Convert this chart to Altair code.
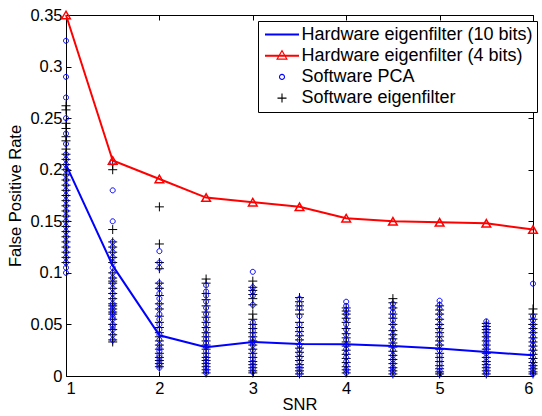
import altair as alt
import pandas as pd

# ---------------- data ----------------
S_HW10 = "Hardware eigenfilter (10 bits)"
S_HW4 = "Hardware eigenfilter (4 bits)"
S_PCA = "Software PCA"
S_SWE = "Software eigenfilter"
series_names = [S_HW10, S_HW4, S_PCA, S_SWE]

snr_line = [1, 1.5, 2, 2.5, 3, 3.5, 4, 4.5, 5, 5.5, 6]
hw10 = [0.205, 0.107, 0.0395, 0.028, 0.033, 0.031, 0.0307, 0.029, 0.0266, 0.0233, 0.020]
hw4 = [0.35, 0.209, 0.191, 0.173, 0.1685, 0.164, 0.153, 0.150, 0.149, 0.148, 0.142]

# Software PCA (blue circles), per SNR
pca_1_0 = [0.325, 0.29, 0.27, 0.25, 0.235, 0.225, 0.215, 0.21, 0.205, 0.2, 0.195, 0.19, 0.185, 0.18,
           0.175, 0.17, 0.165, 0.16, 0.155, 0.15, 0.145, 0.14, 0.135, 0.13, 0.125, 0.12, 0.115, 0.11,
           0.105, 0.1]
pca_1_5 = [0.207, 0.18, 0.15, 0.13, 0.125, 0.12, 0.115, 0.11, 0.105, 0.1, 0.095, 0.09, 0.085, 0.08,
           0.075, 0.07, 0.068, 0.065, 0.062, 0.06, 0.057, 0.055, 0.05, 0.048, 0.045, 0.04, 0.035]
pca_2_0 = [0.121, 0.11, 0.105, 0.09, 0.085, 0.08, 0.075, 0.07, 0.065, 0.06, 0.055, 0.05, 0.045, 0.04,
           0.035, 0.03, 0.027, 0.024, 0.02, 0.018, 0.015, 0.012, 0.01, 0.008]
pca_2_5 = [0.088, 0.082, 0.078, 0.072, 0.066, 0.06, 0.055, 0.05, 0.045, 0.04, 0.036, 0.032, 0.028,
           0.024, 0.02, 0.017, 0.014, 0.011, 0.008, 0.005, 0.003]
pca_3_0 = [0.101, 0.086, 0.082, 0.078, 0.069, 0.052, 0.048, 0.044, 0.04, 0.036, 0.033, 0.03, 0.025,
           0.02, 0.016, 0.013, 0.01, 0.007, 0.004]
pca_3_5 = [0.075, 0.07, 0.066, 0.058, 0.05, 0.045, 0.04, 0.035, 0.03, 0.026, 0.022, 0.018, 0.014,
           0.01, 0.007, 0.004, 0.002]
pca_4_0 = [0.072, 0.068, 0.064, 0.06, 0.055, 0.05, 0.045, 0.04, 0.035, 0.03, 0.026, 0.022, 0.018,
           0.014, 0.01, 0.006, 0.003]
pca_4_5 = [0.07, 0.066, 0.062, 0.058, 0.054, 0.05, 0.045, 0.04, 0.035, 0.03, 0.025, 0.02, 0.016,
           0.012, 0.008, 0.005, 0.002]
pca_5_0 = [0.073, 0.069, 0.065, 0.06, 0.055, 0.05, 0.045, 0.04, 0.035, 0.03, 0.025, 0.02, 0.016,
           0.012, 0.008, 0.005, 0.002]
pca_5_5 = [0.053, 0.05, 0.047, 0.044, 0.041, 0.038, 0.035, 0.032, 0.029, 0.026, 0.022, 0.018, 0.014,
           0.01, 0.007, 0.004, 0.002]
pca_6_0 = [0.0895, 0.058, 0.054, 0.05, 0.046, 0.042, 0.038, 0.034, 0.03, 0.026, 0.022, 0.018, 0.014,
           0.01, 0.007, 0.004, 0.002]

# Software eigenfilter (black plus), per SNR
swe_1_0 = [0.262, 0.258, 0.245, 0.24, 0.232, 0.228, 0.22, 0.215, 0.21, 0.205, 0.2, 0.195, 0.19, 0.185,
           0.18, 0.175, 0.17, 0.165, 0.16, 0.155, 0.15, 0.145, 0.14, 0.135, 0.13, 0.125, 0.12, 0.115,
           0.11]
swe_1_5 = [0.205, 0.2, 0.142, 0.13, 0.125, 0.12, 0.115, 0.11, 0.1, 0.095, 0.092, 0.09, 0.085, 0.08,
           0.075, 0.07, 0.068, 0.065, 0.062, 0.06, 0.055, 0.05, 0.045, 0.04, 0.035, 0.033]
swe_2_0 = [0.164, 0.128, 0.11, 0.104, 0.09, 0.085, 0.078, 0.07, 0.065, 0.058, 0.052, 0.047, 0.042,
           0.038, 0.034, 0.03, 0.026, 0.022, 0.018, 0.015, 0.012, 0.009]
swe_2_5 = [0.094, 0.09, 0.08, 0.074, 0.068, 0.062, 0.057, 0.052, 0.047, 0.042, 0.038, 0.034, 0.03,
           0.026, 0.022, 0.018, 0.015, 0.012, 0.009, 0.006, 0.003]
swe_3_0 = [0.092, 0.086, 0.083, 0.079, 0.075, 0.069, 0.06, 0.055, 0.05, 0.046, 0.042, 0.038, 0.034,
           0.03, 0.026, 0.022, 0.018, 0.014, 0.011, 0.008, 0.005, 0.003]
swe_3_5 = [0.076, 0.072, 0.068, 0.064, 0.06, 0.052, 0.047, 0.043, 0.039, 0.035, 0.031, 0.027, 0.023,
           0.019, 0.015, 0.011, 0.008, 0.005, 0.002]
swe_4_0 = [0.066, 0.063, 0.06, 0.056, 0.052, 0.046, 0.041, 0.037, 0.033, 0.029, 0.025, 0.021, 0.017,
           0.013, 0.009, 0.006, 0.003]
swe_4_5 = [0.075, 0.071, 0.066, 0.06, 0.056, 0.05, 0.044, 0.04, 0.036, 0.032, 0.028, 0.024, 0.02,
           0.016, 0.012, 0.008, 0.005, 0.002]
swe_5_0 = [0.068, 0.064, 0.06, 0.055, 0.05, 0.046, 0.042, 0.038, 0.034, 0.03, 0.026, 0.022, 0.018,
           0.014, 0.01, 0.007, 0.004, 0.002]
swe_5_5 = [0.051, 0.048, 0.045, 0.042, 0.038, 0.034, 0.03, 0.026, 0.022, 0.018, 0.014, 0.011, 0.008,
           0.005, 0.002]
swe_6_0 = [0.065, 0.06, 0.055, 0.05, 0.046, 0.042, 0.037, 0.033, 0.029, 0.025, 0.021, 0.017, 0.013,
           0.01, 0.007, 0.004, 0.002]

x_ticks = [1, 2, 3, 4, 5, 6]
y_ticks = [0, 0.05, 0.1, 0.15, 0.2, 0.25, 0.3, 0.35]

pca_cols = [pca_1_0, pca_1_5, pca_2_0, pca_2_5, pca_3_0, pca_3_5, pca_4_0, pca_4_5, pca_5_0, pca_5_5, pca_6_0]
swe_cols = [swe_1_0, swe_1_5, swe_2_0, swe_2_5, swe_3_0, swe_3_5, swe_4_0, swe_4_5, swe_5_0, swe_5_5, swe_6_0]

# ---------------- tables ----------------
rows = []
for s, col in zip(snr_line, swe_cols):
    rows += [{"snr": s, "fpr": v, "series": S_SWE} for v in col]
for s, col in zip(snr_line, pca_cols):
    rows += [{"snr": s, "fpr": v, "series": S_PCA} for v in col]
scatter_df = pd.DataFrame(rows)

line_df = pd.DataFrame(
    [{"snr": s, "fpr": v, "series": S_HW10} for s, v in zip(snr_line, hw10)]
    + [{"snr": s, "fpr": v, "series": S_HW4} for s, v in zip(snr_line, hw4)]
)
tri_df = pd.DataFrame({"snr": snr_line, "fpr": hw4})

FONT = "Liberation Sans"
SYM = 289  # symbol area (17 px); custom paths are normalised to half of it

line_path = "M-2,-0.05H2M-2,0.05H2"
tri_path = "M-2,-0.05H2M-2,0.05H2M-0.58,0.4L0,-0.6L0.58,0.4Z"
circle_path = "M0.294,0A0.294,0.294 0 1,1 -0.294,0A0.294,0.294 0 1,1 0.294,0Z"
plus_path = "M-0.53,0H0.53M0,-0.53V0.53"

color_scale = alt.Scale(domain=series_names, range=["#0000ff", "#ff0000", "#0000ff", "#000000"])
shape_scale = alt.Scale(domain=series_names, range=[line_path, tri_path, circle_path, plus_path])

legend = alt.Legend(title=None, orient="none", legendX=192, legendY=6,
                    strokeColor="black", fillColor="white", padding=4, rowPadding=2.2,
                    labelFont=FONT, labelFontSize=18, labelColor="black",
                    symbolOffset=10.5, labelOffset=10,
                    symbolSize=SYM, symbolStrokeWidth=1.1, labelLimit=400)

xscale = alt.Scale(domain=[1, 6], nice=False, zero=False)
yscale = alt.Scale(domain=[0, 0.35], nice=False, zero=False)

axis_common = dict(domain=False, grid=False, tickSize=5, offset=-5, tickColor="black",
                   tickWidth=1, labelFont=FONT, labelFontSize=16.5, labelColor="black",
                   titleFont=FONT, titleFontSize=16.5, titleColor="black", titleFontWeight="normal")

x_bottom = alt.Axis(values=x_ticks, title="SNR", labelPadding=4, titlePadding=0, **axis_common)
y_left = alt.Axis(values=y_ticks, title="False Positive Rate", format=".2~f", labelPadding=4,
                  titlePadding=6, **axis_common)
x_top = alt.Axis(values=x_ticks, orient="top", labels=False, title=None, **axis_common)
y_right = alt.Axis(values=y_ticks, orient="right", labels=False, title=None, **axis_common)

scatter = alt.Chart(scatter_df).mark_point(filled=False, size=SYM, strokeWidth=1, opacity=1).encode(
    x=alt.X("snr:Q", scale=xscale, axis=x_bottom),
    y=alt.Y("fpr:Q", scale=yscale, axis=y_left),
    color=alt.Color("series:N", scale=color_scale, legend=legend),
    shape=alt.Shape("series:N", scale=shape_scale, legend=legend),
)

lines = alt.Chart(line_df).mark_line(strokeWidth=2).encode(
    x=alt.X("snr:Q", scale=xscale, axis=None),
    y=alt.Y("fpr:Q", scale=yscale, axis=None),
    color=alt.Color("series:N", scale=color_scale, legend=legend),
    detail="series:N",
)

tris = alt.Chart(tri_df).mark_point(shape="triangle-up", filled=False, color="#ff0000",
                                    size=75, strokeWidth=1.5, opacity=1).encode(
    x=alt.X("snr:Q", scale=xscale, axis=x_top),
    y=alt.Y("fpr:Q", scale=yscale, axis=y_right),
)

chart = alt.layer(scatter, lines, tris).resolve_axis(
    x="independent", y="independent"
).properties(
    width=467, height=361,
    padding={"left": 66, "top": 15, "right": 9, "bottom": 40},
    autosize=alt.AutoSizeParams(type="none"),
    background="white",
).configure_view(stroke="black", strokeWidth=1)

chart.save("out.html", embed_options={"renderer": "svg", "actions": False})
